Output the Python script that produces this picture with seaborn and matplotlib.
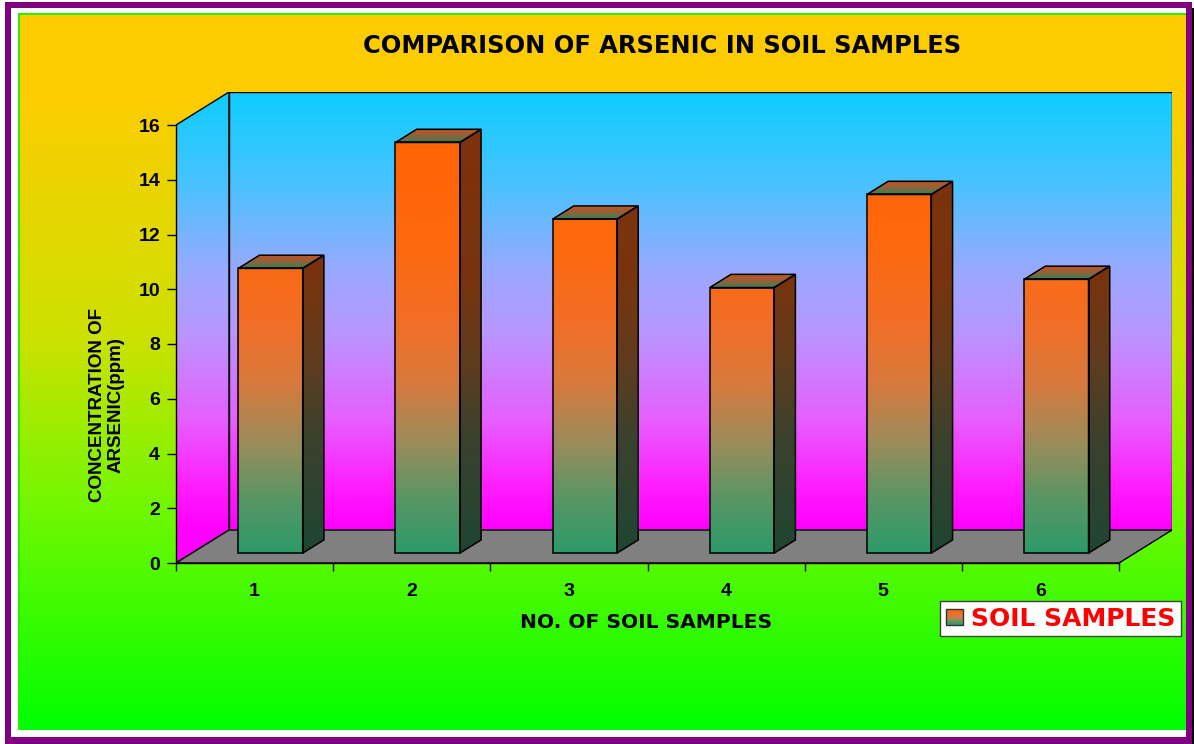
import numpy as np
import pandas as pd
import matplotlib
matplotlib.use("Agg")
import matplotlib.pyplot as plt
import seaborn as sns
from matplotlib.colors import LinearSegmentedColormap
from matplotlib.patches import Polygon, Rectangle, Patch
from matplotlib.legend_handler import HandlerPatch
from matplotlib.image import BboxImage
from matplotlib.transforms import Bbox, TransformedBbox, Affine2D
from matplotlib.font_manager import FontProperties

# ---------------- data ----------------
samples = ["1", "2", "3", "4", "5", "6"]
arsenic_ppm = [10.4, 15.0, 12.2, 9.7, 13.1, 10.0]
y_ticks = [0, 2, 4, 6, 8, 10, 12, 14, 16]
y_tick_labels = [str(t) for t in y_ticks]
title_text = "COMPARISON OF ARSENIC IN SOIL SAMPLES"
x_title = "NO. OF SOIL SAMPLES"
y_title = "CONCENTRATION OF\nARSENIC(ppm)"
legend_label = "SOIL SAMPLES"

# ---------------- layout (pixels) ----------------
W, H, DPI = 1194, 744, 100
FRONT_L, FRONT_R, FRONT_B, FRONT_T = 176, 1119, 563, 125   # front plane of the 3-D box
DEPTH_PX = (53, 33)                                         # box depth, projected
BAR_W = 0.41
FRONT_DEPTH, BACK_DEPTH = 0.3, 0.7                          # bar position inside the box
Y_MAX = 16

sns.set_theme(style="white")
plt.rcParams["font.family"] = ["Liberation Sans", "DejaVu Sans"]
plt.rcParams.update({"text.color": "black", "axes.labelcolor": "black",
                     "xtick.color": "black", "ytick.color": "black"})

fig = plt.figure(figsize=(W / DPI, H / DPI), dpi=DPI, facecolor="white")


def rgb(c):
    return tuple(v / 255 for v in c)


def cmap_from(stops):
    return LinearSegmentedColormap.from_list("g", [(p, rgb(c)) for p, c in stops])


page_cmap = cmap_from([(0.0, (253, 204, 0)), (0.12, (252, 205, 0)), (0.45, (205, 225, 0)),
                       (0.7, (110, 248, 0)), (1.0, (0, 255, 0))])
wall_cmap = cmap_from([(0.0, (15, 205, 255)), (0.2, (70, 195, 255)), (0.4, (150, 170, 255)),
                       (0.55, (185, 150, 255)), (0.75, (230, 95, 255)), (0.9, (255, 30, 255)),
                       (1.0, (255, 0, 255))])
front_cmap = cmap_from([(0.0, (45, 155, 105)), (0.13, (90, 150, 100)), (0.26, (155, 140, 90)),
                        (0.4, (215, 122, 62)), (0.55, (242, 110, 38)), (0.75, (255, 104, 12)),
                        (1.0, (255, 100, 5))])
side_cmap = cmap_from([(0.0, (30, 70, 50)), (0.28, (60, 65, 45)), (0.45, (95, 60, 30)),
                       (0.65, (120, 52, 15)), (1.0, (125, 50, 12))])
top_cmap = cmap_from([(0.0, (50, 130, 85)), (0.35, (125, 105, 65)), (0.7, (175, 88, 45)),
                      (1.0, (190, 85, 40))])

# ---------------- page background ----------------
bg = fig.add_axes([0, 0, 1, 1], zorder=-2)
bg.imshow(np.linspace(0, 1, 256).reshape(-1, 1), cmap=page_cmap, extent=(18, 1186, 730, 13),
          aspect="auto", interpolation="bilinear", origin="upper")
bg.set_xlim(0, W)
bg.set_ylim(H, 0)
bg.axis("off")

# ---------------- main axes ----------------
n = len(samples)
cat_px = (FRONT_R - FRONT_L) / n
val_px = (FRONT_B - FRONT_T) / Y_MAX
dx, dy = DEPTH_PX[0] / cat_px, DEPTH_PX[1] / val_px
ax_w = FRONT_R - FRONT_L + DEPTH_PX[0]
ax_h = FRONT_B - FRONT_T + DEPTH_PX[1]
ax = fig.add_axes([FRONT_L / W, 1 - FRONT_B / H, ax_w / W, ax_h / H])
ax.set_facecolor("none")

xmin, xmax = -0.5, n - 0.5
top = Y_MAX + dy

df = pd.DataFrame({"sample": samples, "arsenic": arsenic_ppm})
sns.barplot(data=df, x="sample", y="arsenic", width=BAR_W, color="#FF6600",
            errorbar=None, ax=ax)
bars = list(ax.patches)

# walls and floor
side_wall = Polygon([(xmin, 0), (xmin + dx, dy), (xmin + dx, top), (xmin, Y_MAX)], closed=True,
                    facecolor="none", edgecolor="black", lw=1, zorder=2)
back_wall = Polygon([(xmin + dx, dy), (xmax + dx, dy), (xmax + dx, top), (xmin + dx, top)],
                    closed=True, facecolor="none", edgecolor="black", lw=1, zorder=2)
floor = Polygon([(xmin, 0), (xmax, 0), (xmax + dx, dy), (xmin + dx, dy)], closed=True,
                facecolor=rgb((128, 128, 128)), edgecolor="black", lw=1, zorder=2)
for p in (side_wall, back_wall, floor):
    ax.add_patch(p)

ys = np.linspace(top, 0, 400)
wall_vals = np.clip((top - ys) / Y_MAX, 0, 1).reshape(-1, 1)
for wall in (side_wall, back_wall):
    im = ax.imshow(wall_vals, cmap=wall_cmap, vmin=0, vmax=1, extent=(xmin, xmax + dx, 0, top),
                   aspect="auto", interpolation="bilinear", origin="upper", zorder=1)
    im.set_clip_path(wall)

# 3-D bars
fx, fy = FRONT_DEPTH * dx, FRONT_DEPTH * dy
bx, by = BACK_DEPTH * dx, BACK_DEPTH * dy
grad_top = max(arsenic_ppm) + 0.4
for p in bars:
    x0, w, h = p.get_x(), p.get_width(), p.get_height()
    x1 = x0 + w
    p.set_transform(Affine2D().translate(fx, fy) + ax.transData)
    p.set_facecolor("none")
    p.set_edgecolor("black")
    p.set_linewidth(1.1)
    p.set_zorder(6)

    vals = np.linspace(h, 0, 200).reshape(-1, 1)
    ax.imshow(vals, cmap=front_cmap, vmin=0, vmax=grad_top, extent=(x0 + fx, x1 + fx, fy, h + fy),
              aspect="auto", interpolation="bilinear", origin="upper", zorder=4)

    side = Polygon([(x1 + fx, fy), (x1 + bx, by), (x1 + bx, h + by), (x1 + fx, h + fy)],
                   closed=True, facecolor="none", edgecolor="black", lw=1.1, zorder=6)
    ax.add_patch(side)
    im = ax.imshow(np.linspace(h + by - fy, 0, 200).reshape(-1, 1), cmap=side_cmap, vmin=0,
                   vmax=grad_top, extent=(x1 + fx, x1 + bx, fy, h + by), aspect="auto",
                   interpolation="bilinear", origin="upper", zorder=4)
    im.set_clip_path(side)

    lid = Polygon([(x0 + fx, h + fy), (x1 + fx, h + fy), (x1 + bx, h + by), (x0 + bx, h + by)],
                  closed=True, facecolor="none", edgecolor="black", lw=1.1, zorder=6)
    ax.add_patch(lid)
    im = ax.imshow(np.linspace(1, 0, 100).reshape(-1, 1), cmap=top_cmap, vmin=0, vmax=1,
                   extent=(x0 + fx, x1 + bx, h + fy, h + by), aspect="auto",
                   interpolation="bilinear", origin="upper", zorder=4)
    im.set_clip_path(lid)

ax.set_xlim(xmin, xmax + dx)
ax.set_ylim(0, top)

# axes, ticks, labels
for s in ("top", "right"):
    ax.spines[s].set_visible(False)
ax.spines["left"].set_bounds(0, Y_MAX)
ax.spines["bottom"].set_bounds(xmin, xmax)
for s in ("left", "bottom"):
    ax.spines[s].set_color("black")
    ax.spines[s].set_linewidth(1)
    ax.spines[s].set_zorder(7)

tick_font = FontProperties(family="Liberation Sans", weight="bold", size=14)
ax.set_yticks(y_ticks)
ax.set_yticklabels(y_tick_labels, fontproperties=tick_font, color="black")
ax.set_xticks(range(n))
ax.set_xticklabels(samples, fontproperties=tick_font, color="black")
ax.set_xticks(np.arange(xmin, xmax + 0.01, 1), minor=True)
ax.tick_params(axis="y", which="major", left=True, direction="out", length=6.5, width=1,
               color="black", pad=5)
ax.tick_params(axis="x", which="major", bottom=True, length=0, pad=14.4)
ax.tick_params(axis="x", which="minor", bottom=True, direction="out", length=5.5, width=1,
               color="black")


def to_ax(px, py):
    return (px - FRONT_L) / ax_w, (FRONT_B - py) / ax_h


ax.set_xlabel(x_title, fontfamily="DejaVu Sans", fontweight="bold", fontsize=14.6,
              color="black")
ax.xaxis.set_label_coords(*to_ax(646, 622))
ax.xaxis.label.set_va("center")
ax.set_ylabel(y_title, fontfamily="Liberation Sans", fontweight="bold", fontsize=13.5,
              multialignment="center", linespacing=1.15, color="black")
ax.yaxis.set_label_coords(*to_ax(107, 405))
ax.yaxis.label.set_va("center")

fig.text(662 / W, 1 - 46 / H, title_text, ha="center", va="center",
         fontfamily="DejaVu Sans", fontweight="bold", fontsize=17.4, color="black")


# legend with a gradient key
class GradientKey(HandlerPatch):
    def create_artists(self, legend, orig_handle, xdescent, ydescent, width, height,
                       fontsize, trans):
        box = TransformedBbox(Bbox.from_bounds(-xdescent, -ydescent, width, height), trans)
        img = BboxImage(box, cmap=front_cmap, interpolation="bilinear", origin="upper")
        img.set_data(np.linspace(grad_top * 0.75, 0, 64).reshape(-1, 1))
        img.set_clim(0, grad_top)
        edge = Rectangle((-xdescent, -ydescent), width, height, facecolor="none",
                         edgecolor="#333333", lw=1, transform=trans)
        return [img, edge]


leg = fig.legend(handles=[Patch(label=legend_label)], handler_map={Patch: GradientKey()},
                 loc="upper left", bbox_to_anchor=(940 / W, 1 - 601 / H),
                 bbox_transform=fig.transFigure, frameon=True, fancybox=False,
                 edgecolor="#404040", facecolor="white", framealpha=1,
                 prop=FontProperties(family="DejaVu Sans", weight="bold", size=18),
                 labelcolor="red", borderpad=0.22, handlelength=0.68, handleheight=0.6,
                 handletextpad=0.33, borderaxespad=0)
leg.get_frame().set_linewidth(1)

# page frame
fr = fig.add_axes([0, 0, 1, 1], zorder=10)
fr.set_facecolor("none")
fr.set_xlim(0, W)
fr.set_ylim(H, 0)
fr.axis("off")
purple, green = rgb((128, 0, 128)), rgb((40, 240, 0))
for (x0, y0, x1, y1, c) in [
    (11, 8, 1186, 13, "white"), (11, 8, 18, 737, "white"), (11, 730, 1186, 737, "white"),
    (18, 13, 1186, 15, green), (18, 13, 19.5, 730, green),
    (5, 2, 1192, 8, purple), (5, 2, 11, 744, purple), (1186, 2, 1192, 744, purple),
    (5, 737, 1192, 744, purple), (1192, 8, 1194, 744, "black"),
]:
    fr.add_patch(Rectangle((x0, y0), x1 - x0, y1 - y0, facecolor=c, edgecolor="none"))

fig.savefig("out.png", dpi=DPI, facecolor="white")
